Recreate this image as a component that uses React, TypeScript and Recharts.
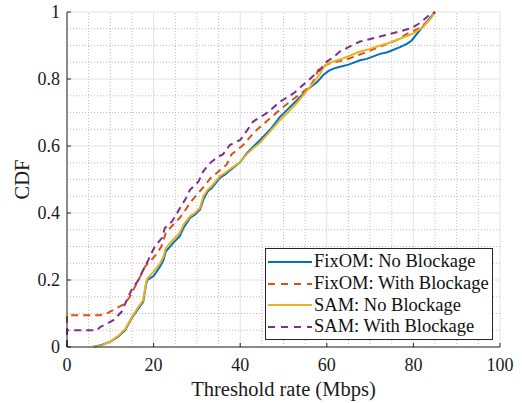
import React from 'react';
import { LineChart, Line, XAxis, YAxis, CartesianGrid, Legend, ReferenceLine } from 'recharts';

// threshold rate (Mbps) / CDF pairs
const fixNoRate = [6, 8, 10, 11.8, 13.4, 14.9, 16.5, 17.6, 18.3, 18.6, 20, 21.5, 22.3, 22.8, 24.5, 26, 26.9, 28.4, 29.5, 30.7, 31.5, 32.5, 33.4, 35.3, 36.5, 38.4, 40, 41.5, 43, 44.6, 47, 49.2, 51, 53, 55.4, 57.7, 59.2, 60.5, 62, 65, 67.7, 69.2, 72.3, 74, 76.9, 78.5, 79.6, 81.5, 83.4, 85];
const fixNoCdf = [0, 0.006, 0.016, 0.031, 0.05, 0.085, 0.115, 0.135, 0.19, 0.2, 0.212, 0.24, 0.26, 0.285, 0.31, 0.33, 0.355, 0.385, 0.395, 0.41, 0.44, 0.465, 0.474, 0.505, 0.515, 0.535, 0.552, 0.578, 0.598, 0.618, 0.65, 0.687, 0.71, 0.735, 0.767, 0.79, 0.812, 0.825, 0.833, 0.843, 0.856, 0.86, 0.875, 0.88, 0.895, 0.905, 0.915, 0.946, 0.975, 1];

const fixWithRate = [0, 0, 7.6, 9.2, 11.5, 13.4, 14.5, 15.7, 16.9, 18, 19.5, 20.5, 21.8, 22.8, 24.5, 26, 26.9, 28.4, 30, 30.7, 32.3, 33.5, 34.2, 36, 36.9, 38, 40.7, 42.5, 43.8, 46.9, 50, 53, 56.1, 57.2, 58, 59.5, 61, 64, 67, 70, 73, 76, 78.5, 81.5, 83.5, 85];
const fixWithCdf = [0, 0.095, 0.095, 0.1, 0.116, 0.13, 0.15, 0.18, 0.21, 0.24, 0.26, 0.275, 0.3, 0.34, 0.365, 0.385, 0.4, 0.43, 0.455, 0.465, 0.49, 0.51, 0.515, 0.535, 0.545, 0.575, 0.603, 0.63, 0.648, 0.683, 0.717, 0.747, 0.777, 0.8, 0.827, 0.84, 0.848, 0.856, 0.87, 0.885, 0.9, 0.915, 0.935, 0.952, 0.975, 1];

const samNoRate = [6, 8, 10, 12, 13.5, 15, 16.5, 17.6, 18.3, 18.6, 20, 21.5, 22.3, 22.8, 24.5, 26, 26.9, 28.4, 29.5, 30.7, 31.5, 32.5, 33.4, 35.3, 36.5, 38.4, 40, 41.5, 43, 44.6, 47, 49.2, 51, 53, 55.4, 57, 58.4, 59.3, 60.5, 63, 65, 67.7, 70, 72.3, 74, 76.9, 80, 82.3, 84, 85];
const samNoCdf = [0, 0.004, 0.017, 0.035, 0.055, 0.09, 0.12, 0.14, 0.195, 0.205, 0.225, 0.25, 0.27, 0.295, 0.32, 0.34, 0.365, 0.39, 0.4, 0.415, 0.45, 0.47, 0.48, 0.51, 0.52, 0.538, 0.552, 0.575, 0.593, 0.61, 0.645, 0.677, 0.7, 0.727, 0.765, 0.79, 0.815, 0.835, 0.848, 0.858, 0.868, 0.882, 0.89, 0.9, 0.906, 0.92, 0.936, 0.956, 0.98, 1];

const samWithRate = [0, 0, 6.9, 7.6, 10.7, 12.6, 13.8, 14.9, 16.5, 17.6, 18.8, 19.5, 20.3, 21.9, 22.6, 24.2, 25, 25.6, 26.5, 27.3, 28.4, 29.6, 30.3, 31.1, 31.4, 32.6, 33.4, 34.9, 36, 37.6, 40, 41.5, 43, 46.1, 49.2, 52.3, 55.4, 58.4, 60, 61.5, 63, 65, 67.7, 72.3, 76.9, 79.5, 81.5, 83.8, 85];
const samWithCdf = [0, 0.05, 0.05, 0.059, 0.08, 0.105, 0.14, 0.17, 0.2, 0.23, 0.26, 0.28, 0.3, 0.325, 0.355, 0.374, 0.39, 0.404, 0.424, 0.44, 0.469, 0.484, 0.493, 0.513, 0.523, 0.543, 0.553, 0.568, 0.575, 0.603, 0.618, 0.645, 0.673, 0.698, 0.732, 0.757, 0.792, 0.827, 0.852, 0.865, 0.882, 0.895, 0.912, 0.927, 0.942, 0.952, 0.967, 0.992, 1];

const xTicks = [0, 20, 40, 60, 80, 100];
const yTicks = [0, 0.2, 0.4, 0.6, 0.8, 1];
const xMinorTicks = [5, 10, 15, 25, 30, 35, 45, 50, 55, 65, 70, 75, 85, 90, 95];
const yMinorTicks = [0.05, 0.1, 0.15, 0.25, 0.3, 0.35, 0.45, 0.5, 0.55, 0.65, 0.7, 0.75, 0.85, 0.9, 0.95];

const toPoints = (rate: number[], cdf: number[]) => rate.map((r, i) => ({ rate: r, cdf: cdf[i] }));

const SERIES = [
  { name: 'FixOM: No Blockage', color: '#0072BD', dashed: false, data: toPoints(fixNoRate, fixNoCdf) },
  { name: 'FixOM: With Blockage', color: '#D95319', dashed: true, data: toPoints(fixWithRate, fixWithCdf) },
  { name: 'SAM: No Blockage', color: '#EDB120', dashed: false, data: toPoints(samNoRate, samNoCdf) },
  { name: 'SAM: With Blockage', color: '#7E2F8E', dashed: true, data: toPoints(samWithRate, samWithCdf) },
];

const FONT = "'Liberation Serif', serif";
const AXIS = '#262626';
const TEXT = '#1a1a1a';
const MINOR = '#bcbcbc';

const renderLegend = () => (
  <div
    style={{
      width: 226,
      height: 88,
      border: `1px solid ${AXIS}`,
      background: '#fff',
      fontFamily: FONT,
      fontSize: 18.5,
      color: '#111',
      paddingTop: 2,
      boxSizing: 'content-box',
    }}
  >
    {SERIES.map((s) => (
      <div key={s.name} style={{ display: 'flex', alignItems: 'center', height: 21.7 }}>
        <svg width={46} height={6} style={{ marginLeft: 2 }}>
          <line
            x1={0}
            y1={3}
            x2={44}
            y2={3}
            stroke={s.color}
            strokeWidth={2}
            strokeDasharray={s.dashed ? '7 6' : undefined}
          />
        </svg>
        <span style={{ lineHeight: '21px', whiteSpace: 'nowrap' }}>{s.name}</span>
      </div>
    ))}
  </div>
);

export default function App() {
  return (
    <div style={{ position: 'fixed', left: 0, top: 0, width: 522, height: 403, background: '#fff', fontFamily: FONT }}>
      <style>{`svg text, svg tspan { font-family: 'Liberation Serif', serif !important; }`}</style>
      <LineChart width={522} height={403} margin={{ top: 12, right: 22, left: 0, bottom: 0 }}>
        <CartesianGrid stroke="#e3e3e3" />
        <XAxis
          dataKey="rate"
          type="number"
          domain={[0, 100]}
          ticks={xTicks}
          allowDuplicatedCategory={false}
          height={56}
          tickSize={-4}
          tickMargin={15}
          stroke={AXIS}
          tick={{ fill: TEXT, fontSize: 18 }}
          label={{ value: 'Threshold rate (Mbps)', position: 'insideBottom', offset: 7, fill: TEXT, fontSize: 20.5 }}
        />
        <YAxis
          type="number"
          domain={[0, 1]}
          ticks={yTicks}
          width={67}
          tickSize={-4}
          tickMargin={11}
          stroke={AXIS}
          tick={{ fill: TEXT, fontSize: 18 }}
          label={{ value: 'CDF', angle: -90, position: 'insideLeft', offset: 22, fill: TEXT, fontSize: 20.5, style: { textAnchor: 'middle' } }}
        />
        {xMinorTicks.map((t) => (
          <ReferenceLine key={`vx-${t}`} x={t} ifOverflow="extendDomain" stroke={MINOR} strokeWidth={1} strokeDasharray="1 2" />
        ))}
        {yMinorTicks.map((t) => (
          <ReferenceLine key={`hy-${t}`} y={t} ifOverflow="extendDomain" stroke={MINOR} strokeWidth={1} strokeDasharray="1 2" />
        ))}
        {SERIES.map((s) => (
          <Line
            key={s.name}
            data={s.data}
            dataKey="cdf"
            name={s.name}
            type="linear"
            stroke={s.color}
            strokeWidth={2}
            strokeDasharray={s.dashed ? '7 5' : undefined}
            dot={false}
            activeDot={false}
            isAnimationActive={false}
          />
        ))}
        <Legend
          verticalAlign="middle"
          align="center"
          layout="horizontal"
          content={renderLegend}
          wrapperStyle={{ left: 265, top: 248, width: 228, height: 91 }}
        />
      </LineChart>
    </div>
  );
}
